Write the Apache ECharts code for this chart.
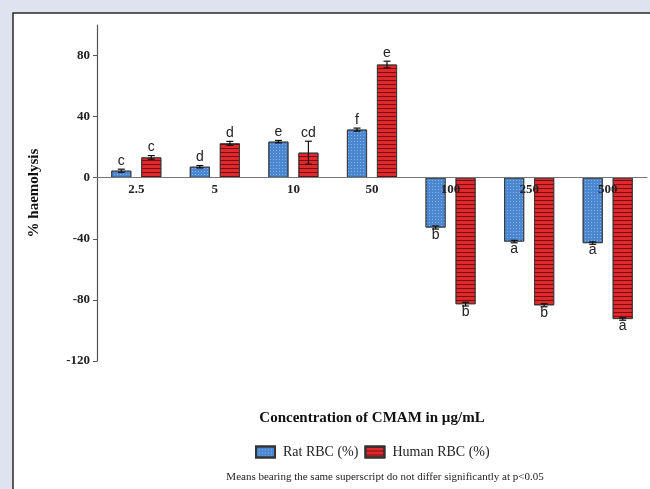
<!DOCTYPE html>
<html>
<head>
<meta charset="utf-8">
<script src="https://cdn.jsdelivr.net/npm/echarts@6/dist/echarts.min.js"></script>
<style>
html,body{margin:0;padding:0;background:#dfe3f0;}
#chart{width:650px;height:489px;}
</style>
</head>
<body>
<div id="chart"></div>
<script>
const categories = ['2.5', '5', '10', '50', '100', '250', '500'];
const ratValues = [4.6, 7.2, 23.6, 31.5, -32.6, -41.8, -42.8];
const humanValues = [13.3, 22.5, 16.4, 74.1, -82.8, -83.5, -92.5];
const ratErrors = [1.0, 0.8, 0.8, 1.0, 1.0, 0.8, 0.8];
const humanErrors = [1.2, 1.3, 7.5, 2.2, 1.2, 1.0, 0.8];
const ratLetters = ['c', 'd', 'e', 'f', 'b', 'a', 'a'];
const humanLetters = ['c', 'd', 'cd', 'e', 'b', 'b', 'a'];
const yTicks = [-120, -80, -40, 0, 40, 80];
const yMin = -120, yMax = 100;

const serif = '"Liberation Serif", "Times New Roman", serif';
const sans = '"Liberation Sans", Arial, sans-serif';

const gridTop = 25, gridBottom = 128, chartH = 489;
const plotH = chartH - gridTop - gridBottom;
// place the category axis on the zero line of the value axis
const zeroOffset = -plotH * (0 - yMin) / (yMax - yMin);

function errorSeries(name, values, errors, letters, offset) {
  return {
    type: 'custom',
    name: name + ' err',
    z: 5,
    silent: true,
    data: values.map((v, i) => [i, v, errors[i]]),
    renderItem: function (params, api) {
      const i = api.value(0), v = api.value(1), e = api.value(2);
      const x = api.coord([i, 0])[0] + offset;
      const yHi = api.coord([i, v + e])[1];
      const yLo = api.coord([i, v - e])[1];
      const cap = 3.5;
      const st = { stroke: '#111', lineWidth: 1.2 };
      const letter = letters[params.dataIndex];
      const children = [
        { type: 'line', shape: { x1: x, y1: yHi, x2: x, y2: yLo }, style: st },
        { type: 'line', shape: { x1: x - cap, y1: yHi, x2: x + cap, y2: yHi }, style: st },
        { type: 'line', shape: { x1: x - cap, y1: yLo, x2: x + cap, y2: yLo }, style: st }
      ];
      if (v >= 0) {
        children.push({ type: 'text', style: { text: letter, x: x, y: yHi - 1, align: 'center', verticalAlign: 'bottom', font: '14px ' + sans, fill: '#222' } });
      } else {
        children.push({ type: 'text', style: { text: letter, x: x, y: yLo - 1, align: 'center', verticalAlign: 'top', font: '14px ' + sans, fill: '#222' } });
      }
      return { type: 'group', children: children };
    }
  };
}

const chart = echarts.init(document.getElementById('chart'), null, { renderer: 'canvas' });
const option = {
  backgroundColor: '#dfe3f0',
  animation: false,
  grid: { left: 97, right: 3, top: gridTop, bottom: gridBottom, containLabel: false },
  graphic: [
    { type: 'rect', z: -100, shape: { x: 13, y: 13, width: 700, height: 600 }, style: { fill: '#ffffff', stroke: '#2a2a2a', lineWidth: 1.5 } },
    { type: 'text', z: 10, style: { text: 'Concentration of CMAM in µg/mL', x: 372, y: 418, align: 'center', verticalAlign: 'middle', font: 'bold 15px ' + serif, fill: '#111' } },
    { type: 'text', z: 10, style: { text: 'Means bearing the same superscript do not differ significantly at p<0.05', x: 385, y: 477, align: 'center', verticalAlign: 'middle', font: '11px ' + serif, fill: '#222' } }
  ],
  legend: {
    left: 250, top: 440,
    itemWidth: 19, itemHeight: 11, itemGap: 6,
    icon: 'rect',
    data: ['Rat RBC (%)', 'Human RBC (%)'],
    textStyle: { fontFamily: serif, fontSize: 14, color: '#222', padding: [0, 0, 0, 3] }
  },
  xAxis: {
    type: 'category',
    data: categories,
    z: 10,
    position: 'bottom',
    offset: zeroOffset,
    axisLine: { onZero: false, lineStyle: { color: '#777', width: 1.2 } },
    axisTick: { alignWithLabel: true, length: 4, lineStyle: { color: '#555' } },
    axisLabel: { margin: 5, fontFamily: serif, fontWeight: 'bold', fontSize: 13, color: '#222' },
    splitLine: { show: false }
  },
  yAxis: {
    type: 'value',
    min: yMin, max: yMax, interval: 40,
    name: '% haemolysis',
    nameLocation: 'middle',
    nameRotate: 90,
    nameGap: 55,
    nameTextStyle: { fontFamily: serif, fontWeight: 'bold', fontSize: 15, color: '#111' },
    axisLine: { show: true, lineStyle: { color: '#555', width: 1.2 } },
    axisTick: { show: true, length: 4, customValues: yTicks, lineStyle: { color: '#555' } },
    axisLabel: { margin: 7, customValues: yTicks, fontFamily: serif, fontWeight: 'bold', fontSize: 13, color: '#222' },
    splitLine: { show: false }
  },
  series: [
    {
      name: 'Rat RBC (%)', type: 'bar', data: ratValues,
      barWidth: 20, barGap: '50%',
      itemStyle: {
        color: '#4a87d0', borderColor: '#333', borderWidth: 0.8,
        decal: { symbol: 'rect', symbolSize: 1, dashArrayX: [1, 2], dashArrayY: [1, 2], color: 'rgba(190,215,250,0.55)' }
      }
    },
    {
      name: 'Human RBC (%)', type: 'bar', data: humanValues,
      barWidth: 20, barGap: '50%',
      itemStyle: {
        color: '#e0282d', borderColor: '#333', borderWidth: 0.8,
        decal: { symbol: 'rect', symbolSize: 1, dashArrayX: [1, 0], dashArrayY: [1, 2.5], color: 'rgba(40,0,0,0.6)' }
      }
    },
    errorSeries('Rat RBC (%)', ratValues, ratErrors, ratLetters, -15),
    errorSeries('Human RBC (%)', humanValues, humanErrors, humanLetters, 15)
  ]
};
chart.setOption(option);
</script>
</body>
</html>
